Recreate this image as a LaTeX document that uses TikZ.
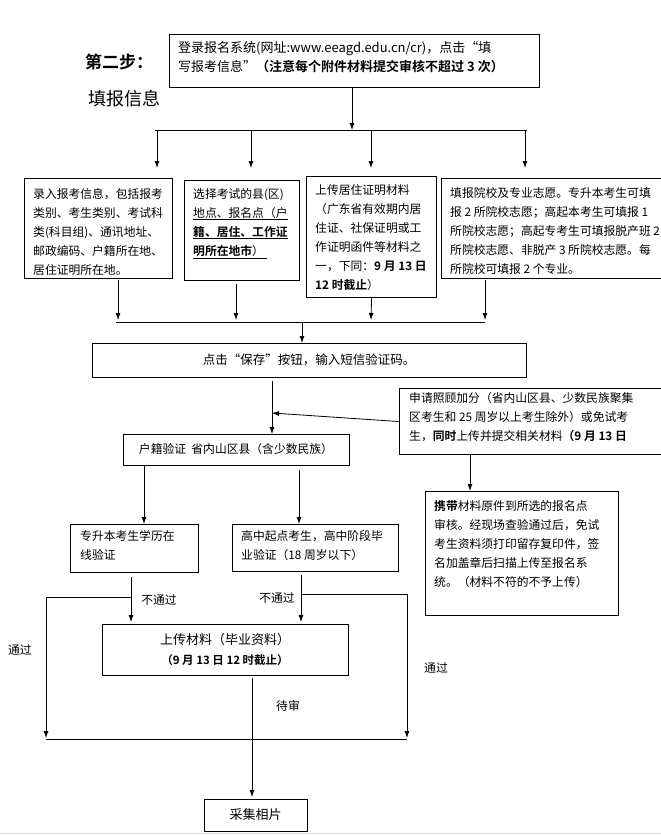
\documentclass[tikz,border=0pt]{standalone}
\usepackage{fontspec}
\setmainfont{Noto Sans CJK SC}[BoldFont={Noto Sans CJK SC Bold}]
\usetikzlibrary{arrows.meta}
\begin{document}
\begin{tikzpicture}[x=1pt,y=-1pt,
  box/.style={draw,line width=1.1pt,anchor=north west,inner sep=0pt},
  txt/.style={anchor=north west,inner sep=0pt,align=left,font=\fontsize{11.8}{19}\selectfont},
  lab/.style={inner sep=0pt,font=\fontsize{11.8}{13}\selectfont},
  arr/.style={-{Latex[length=7pt,width=5pt]},line width=0.8pt},
  ln/.style={line width=0.8pt}]
\useasboundingbox (0,0) rectangle (661,835);
% title
\node[lab,font=\fontsize{17}{20}\selectfont\bfseries] (t1) at (119,62) {第二步：};
\node[lab,font=\fontsize{18}{20}\selectfont] (t2) at (124,99) {填报信息};
% top box
\node[box,minimum width=370pt,minimum height=53pt] (top) at (169,34) {};
\node[txt,font=\fontsize{13}{19}\selectfont] (toptxt) at (178,41) {登录报名系统(网址:www.eeagd.edu.cn/cr)，点击“填\\写报考信息”\textbf{（注意每个附件材料提交审核不超过 3 次）}};
\coordinate (j1) at (352,130);
\draw[arr] (top.south -| j1) -- (j1);
\draw[ln] (155,130) -- (527,130);
\foreach \x in {157,251,371,525} \draw[arr] (\x,130) -- (\x,168);
% four boxes
\node[box,minimum width=148pt,minimum height=100pt] (b1) at (24,178) {};
\node[txt] at (33,188) {录入报考信息，包括报考\\类别、考生类别、考试科\\类(科目组)、通讯地址、\\邮政编码、户籍所在地、\\居住证明所在地。};
\node[box,minimum width=115pt,minimum height=100pt] (b2) at (184,180) {};
\node[txt] at (193,188) {选择考试的县(区)\\\underline{地点、报名点（户}\\\underline{\textbf{籍、居住、工作证}}\\\underline{\textbf{明所在地市}）\ }};
\node[box,minimum width=130pt,minimum height=121pt] (b3) at (306,176) {};
\node[txt] at (315,184) {上传居住证明材料\\（广东省有效期内居\\住证、社保证明或工\\作证明函件等材料之\\一，下同：\textbf{9 月 13 日}\\\textbf{12 时截止}）};
\node[box,minimum width=235pt,minimum height=100pt] (b4) at (441,178) {};
\node[txt] at (450,187) {填报院校及专业志愿。专升本考生可填\\报 2 所院校志愿；高起本考生可填报 1\\所院校志愿；高起专考生可填报脱产班 2\\所院校志愿、非脱产 3 所院校志愿。每\\所院校可填报 2 个专业。};
\draw[arr] (118,280) -- (118,320);
\draw[arr] (236,284) -- (236,320);
\draw[arr] (b3.south) -- (371,320);
\draw[arr] (485,280) -- (485,320);
\draw[ln] (116,322) -- (485,322);
% save
\node[box,minimum width=434pt,minimum height=34pt] (save) at (92,343) {};
\node[lab,font=\fontsize{12.5}{14}\selectfont] at (309,360) {点击“保存”按钮，输入短信验证码。};
\draw[arr] (302,322) -- (save.north -| 302,0);
% hj
\node[box,minimum width=226pt,minimum height=31pt] (hj) at (123,434) {};
\node[lab] at (236,449.5) {户籍验证\ \ 省内山区县（含少数民族）};
\draw[arr] (272,381) -- (272,434);
\node[box,minimum width=270pt,minimum height=66pt] (sq) at (399,388) {};
\node[txt] at (409,392) {申请照顾加分（省内山区县、少数民族聚集\\区考生和 25 周岁以上考生除外）或免试考\\生，\textbf{同时}上传并提交相关材料\textbf{（9 月 13 日}};
\draw[arr] (sq.west) -- (272,413);
\node[box,minimum width=193pt,minimum height=124pt] (xd) at (425,491) {};
\node[txt] at (434,500) {\textbf{携带}材料原件到所选的报名点\\审核。经现场查验通过后，免试\\考生资料须打印留存复印件，签\\名加盖章后扫描上传至报名系\\统。（材料不符的不予上传）};
\draw[arr] (470,455) -- (xd.north -| 470,0);
% level
\node[box,minimum width=128pt,minimum height=48pt] (zs) at (70,524) {};
\node[txt] at (80,530) {专升本考生学历在\\线验证};
\node[box,minimum width=166pt,minimum height=47pt] (gz) at (232,524) {};
\node[txt] at (241,530) {高中起点考生，高中阶段毕\\业验证（18 周岁以下）};
\draw[arr] (144,466) -- (144,524);
\draw[arr] (299,470) -- (299,524);
% upload
\node[box,minimum width=246pt,minimum height=51pt] (up) at (102,624) {};
\node[lab,font=\fontsize{13}{14}\selectfont] at (225,640) {上传材料（毕业资料）};
\node[lab,font=\fontsize{11.5}{13}\selectfont\bfseries] at (225,660) {（9 月 13 日 12 时截止）};
\draw[arr] (131,577) -- (131,622);
\draw[arr] (301,575) -- (301,622);
\draw[ln] (131,597) -- (46,597);
\draw[arr] (46,597) -- (46,738);
\draw[ln] (301,594) -- (407,594);
\draw[arr] (407,594) -- (407,738);
\draw[ln] (46,739) -- (407,739);
\node[lab] at (159,600) {不通过};
\node[lab] at (277,598) {不通过};
\node[lab] at (20,650) {通过};
\node[lab] at (436,668) {通过};
% photo
\node[box,minimum width=103pt,minimum height=32pt] (ph) at (204,799) {};
\node[lab,font=\fontsize{13}{14}\selectfont] at (255.5,815) {采集相片};
\draw[arr] (252,678) -- (252,797);
\node[lab] at (288,706) {待审};
\draw[gray!30,line width=1pt] (0,833) -- (661,833);
\end{tikzpicture}
\end{document}
